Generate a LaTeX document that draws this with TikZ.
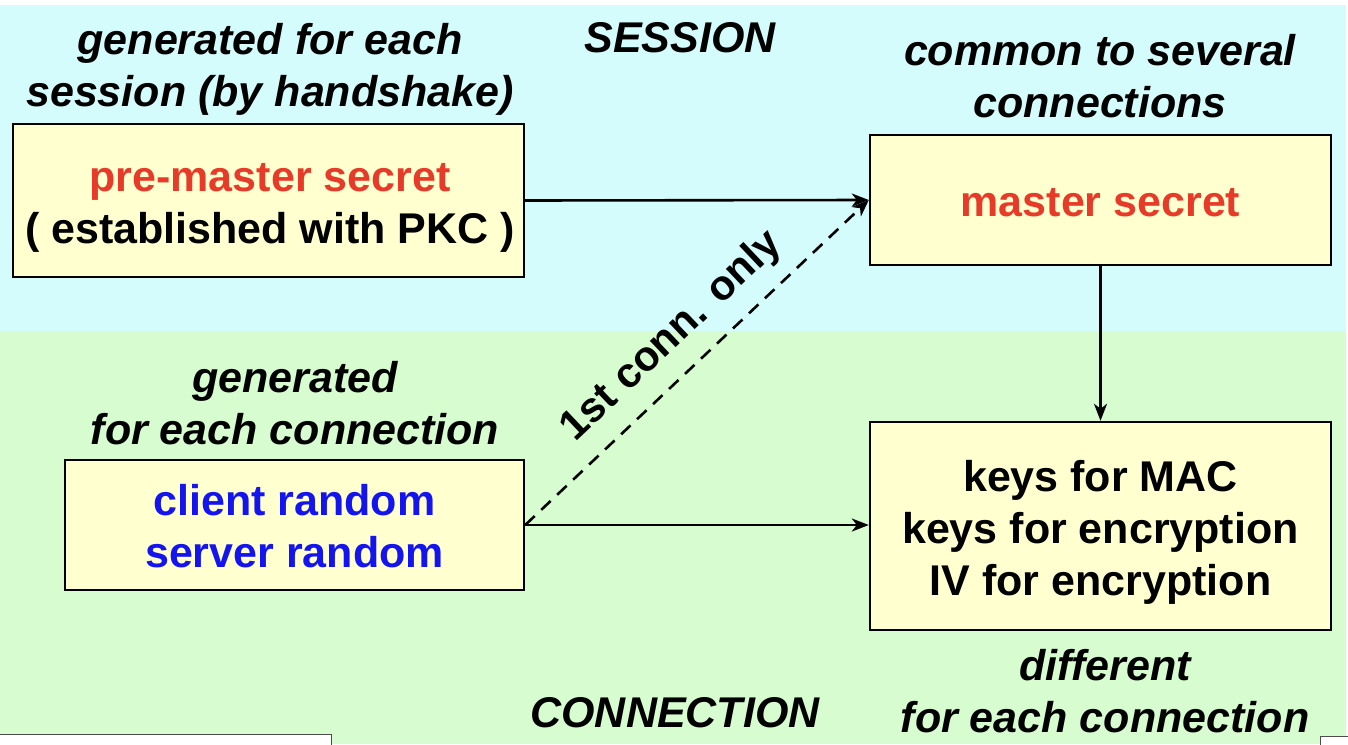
\documentclass[tikz,border=0pt]{standalone}
\usepackage{fontspec}
\setmainfont{Liberation Sans}
\usetikzlibrary{arrows.meta}
\definecolor{sessbg}{RGB}{212,252,252}
\definecolor{connbg}{RGB}{214,252,208}
\definecolor{boxfill}{RGB}{255,255,208}
\definecolor{redtxt}{RGB}{232,58,40}
\definecolor{bluetxt}{RGB}{20,20,240}
\tikzset{
  box/.style={draw=black, line width=2.4pt, fill=boxfill, inner sep=0pt},
  boxtext/.style={align=center, inner sep=0pt, font=\fontsize{43}{52}\selectfont\bfseries},
  note/.style={align=center, inner sep=0pt, font=\fontsize{43}{52}\selectfont\bfseries\itshape},
  arr/.style={line width=2.6pt, -{Stealth[length=17pt,width=13pt,inset=5pt]}},
  dash line/.style={line width=2.6pt, dash pattern=on 13pt off 9pt, -{Stealth[length=17pt,width=13pt,inset=5pt]}},
  corner/.style={fill=white, draw=black!70, line width=0.8pt}
}
\begin{document}
\begin{tikzpicture}[x=1pt,y=-1pt]
\useasboundingbox (0,0) rectangle (1348,744);
\fill[white] (0,0) rectangle (1348,744);
\fill[sessbg] (0,5) rectangle (1346,331);
\fill[connbg] (0,331) rectangle (1346,744);
\draw[corner] (-2,734) rectangle (331,748);
\draw[corner] (1320,736) rectangle (1352,748);

\node[box, minimum width=511pt, minimum height=153pt] (p) at (268.5,200.5) {};
\node[box, minimum width=461pt, minimum height=130pt] (m) at (1100.5,200) {};
\node[box, minimum width=459pt, minimum height=130pt] (c) at (294.5,525) {};
\node[box, minimum width=461pt, minimum height=208pt] (k) at (1100.5,526) {};

\node[boxtext] (pt) at (270,207.5)
  {\textcolor{redtxt}{pre-master secret}\\( established with PKC )};
\node[boxtext] (mt) at (1100.5,203) {\textcolor{redtxt}{master secret}};
\node[boxtext] (ct) at (294.5,526)
  {\textcolor{bluetxt}{client random}\\\textcolor{bluetxt}{server random}};
\node[boxtext] (kt) at (1100.5,532)
  {keys for MAC\\keys for encryption\\IV for encryption};

\node[note] (n1) at (270,69) {generated for each\\session (by handshake)};
\node[note] (n2) at (680,38) {SESSION};
\node[note] (n3) at (1100,76) {common to several\\connections};
\node[note] (n4) at (295,403) {generated\\for each connection};
\node[note] (n5) at (1105,691) {different\\for each connection};
\node[note] (n6) at (675,713) {CONNECTION};

\draw[arr] (p.east) -- (m.west);
\draw[arr] (m.south) -- (k.north);
\draw[arr] (c.east) -- (c.east -| k.west);
\draw[dash line] (c.east) -- node[sloped, above=15pt, inner sep=0pt,
  font=\fontsize{42}{50}\selectfont\bfseries] (lbl) {1st conn. only} (m.west);
\end{tikzpicture}
\end{document}
